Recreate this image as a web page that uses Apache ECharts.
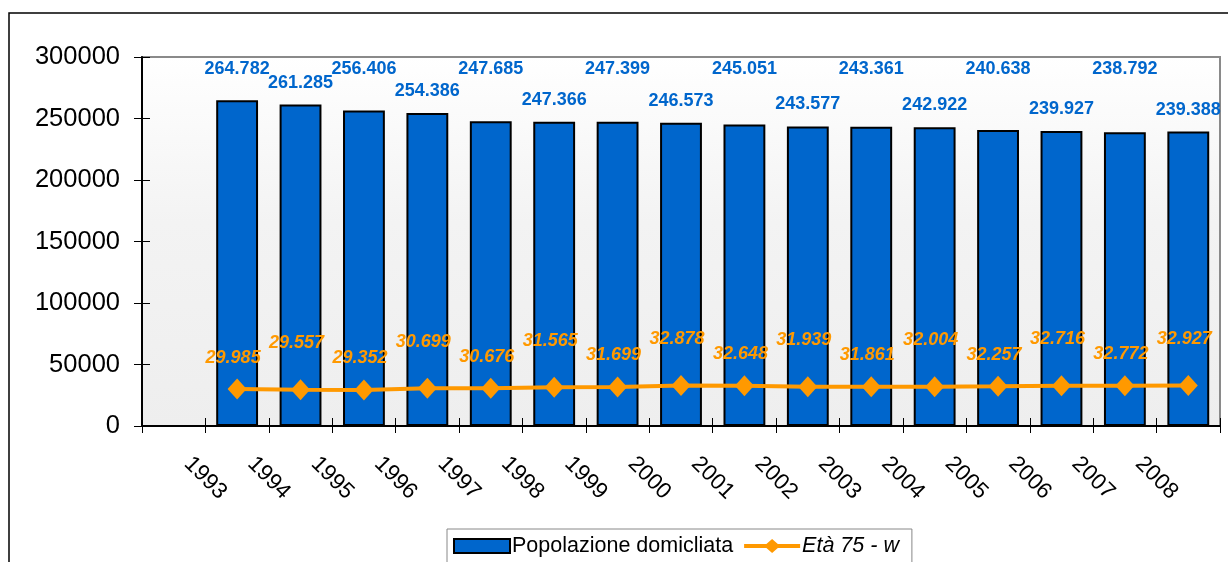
<!DOCTYPE html>
<html>
<head>
<meta charset="utf-8">
<script src="https://cdn.jsdelivr.net/npm/echarts@6/dist/echarts.min.js"></script>
<style>
  html, body { margin: 0; padding: 0; background: #fff; }
  #myChart { width: 1228px; height: 562px; }
</style>
</head>
<body>
<div id="myChart"></div>
<script>
// dati
var years = ['1993', '1994', '1995', '1996', '1997', '1998', '1999', '2000',
             '2001', '2002', '2003', '2004', '2005', '2006', '2007', '2008'];
var popolazione = [264782, 261285, 256406, 254386, 247685, 247366, 247399, 246573,
                   245051, 243577, 243361, 242922, 240638, 239927, 238792, 239388];
var eta75 = [29985, 29557, 29352, 30699, 30676, 31565, 31699, 32878,
             32648, 31939, 31861, 32004, 32257, 32716, 32772, 32927];
var yTicks = [0, 50000, 100000, 150000, 200000, 250000, 300000];

var FONT = '"Liberation Sans", Arial, sans-serif';
var GRID_TOP = 57, GRID_BOTTOM = 136;
var PLOT_H = 562 - GRID_TOP - GRID_BOTTOM;
var Y_MAX = yTicks[yTicks.length - 1];

function fmt(v) {
  return String(v).replace(/\B(?=(\d{3})+(?!\d))/g, '.');
}

// una categoria vuota prima delle barre, etichette sui confini
var barCats = [''].concat(years);
var tickCats = [''].concat(years).concat(['']);

var barData = [{ value: '-' }].concat(popolazione.map(function (v, i) {
  var item = { value: v };
  if (i % 2 === 0) {
    // etichette alte allineate in cima
    var top = GRID_TOP + (1 - v / Y_MAX) * PLOT_H;
    item.label = { offset: [0, 69 - (top - 22)] };
  }
  return item;
}));

var lineData = [{ value: '-' }].concat(eta75.map(function (v, i) {
  return { value: v, label: { distance: i % 2 === 0 ? 12 : 27 } };
}));

// icona legenda: linea spessa con rombo
var lineIcon = 'path://M0,5L56,5L56,9L0,9Z M28,0L36,7L28,14L20,7Z';

var myChart = echarts.init(document.getElementById('myChart'));

var option = {
  animation: false,
  textStyle: { fontFamily: FONT },
  graphic: [{
    type: 'rect',
    shape: { x: 9, y: 13, width: 1400, height: 700 },
    style: { fill: 'none', stroke: '#000', lineWidth: 1.5 },
    z: 100
  }],
  grid: {
    left: 142, right: 8, top: GRID_TOP, bottom: GRID_BOTTOM,
    containLabel: false,
    outerBoundsMode: 'none',
    show: true,
    borderColor: '#8a8a8a',
    borderWidth: 2,
    backgroundColor: new echarts.graphic.LinearGradient(0, 0, 0, 1, [
      { offset: 0, color: '#ffffff' },
      { offset: 0.45, color: '#f3f3f3' },
      { offset: 1, color: '#eeeeee' }
    ])
  },
  legend: {
    left: 447, top: 529,
    padding: [6, 13, 10, 6],
    backgroundColor: '#fff',
    borderColor: '#888',
    borderWidth: 1,
    borderRadius: 0,
    itemWidth: 56,
    itemHeight: 14,
    itemGap: 11,
    textStyle: { fontSize: 21.5, color: '#000', fontFamily: FONT, padding: [0, 0, 0, -3] },
    data: [
      { name: 'Popolazione domicliata', icon: 'rect', itemStyle: { borderColor: '#000', borderWidth: 2 } },
      { name: 'Età 75 - w', icon: lineIcon, itemStyle: { color: '#FF9900', borderWidth: 0 }, textStyle: { fontStyle: 'italic' } }
    ]
  },
  xAxis: [{
    type: 'category',
    data: barCats,
    boundaryGap: true,
    axisLine: { lineStyle: { color: '#000', width: 2 } },
    axisTick: { show: true, inside: true, length: 8, lineStyle: { color: '#000', width: 1 } },
    axisLabel: { show: false },
    splitLine: { show: false }
  }, {
    type: 'category',
    data: tickCats,
    boundaryGap: false,
    position: 'bottom',
    axisLine: { show: false },
    axisTick: { show: true, inside: false, length: 7, interval: 0, lineStyle: { color: '#000', width: 1 } },
    axisLabel: {
      interval: 0, rotate: -45, margin: 52,
      align: 'center', verticalAlign: 'middle',
      fontSize: 22.5, color: '#000', fontFamily: FONT
    },
    splitLine: { show: false }
  }],
  yAxis: [{
    type: 'value',
    min: 0, max: Y_MAX, interval: 50000,
    axisLine: { show: true, lineStyle: { color: '#000', width: 2 } },
    axisTick: { show: true, inside: false, length: 8, lineStyle: { color: '#000', width: 1 } },
    axisLabel: {
      margin: 22, fontSize: 25.5, color: '#000', fontFamily: FONT,
      formatter: function (v) { return String(v); }
    },
    splitLine: { show: false }
  }, {
    type: 'value',
    min: 0, max: Y_MAX, interval: 50000,
    position: 'left',
    axisLine: { show: false },
    axisTick: { show: true, inside: true, length: 8, lineStyle: { color: '#000', width: 1 } },
    axisLabel: { show: false },
    splitLine: { show: false }
  }],
  series: [{
    name: 'Popolazione domicliata',
    type: 'bar',
    xAxisIndex: 0,
    yAxisIndex: 0,
    barCategoryGap: '34%',
    data: barData,
    itemStyle: { color: '#0066CC', borderColor: '#000', borderWidth: 2 },
    label: {
      show: true, position: 'top', distance: 13,
      color: '#0066CC', fontWeight: 'bold', fontSize: 18, fontFamily: FONT,
      formatter: function (p) { return fmt(p.value); }
    },
    z: 2
  }, {
    name: 'Età 75 - w',
    type: 'line',
    xAxisIndex: 0,
    yAxisIndex: 0,
    data: lineData,
    symbol: 'diamond',
    symbolSize: [19, 21],
    itemStyle: { color: '#FF9900' },
    lineStyle: { color: '#FF9900', width: 4 },
    label: {
      show: true, position: 'top', offset: [-4, 0],
      color: '#FF9900', fontWeight: 'bold', fontStyle: 'italic', fontSize: 18, fontFamily: FONT,
      formatter: function (p) { return fmt(p.value); }
    },
    z: 3
  }]
};

window.onresize = myChart.resize;
myChart.setOption(option);
</script>
</body>
</html>
